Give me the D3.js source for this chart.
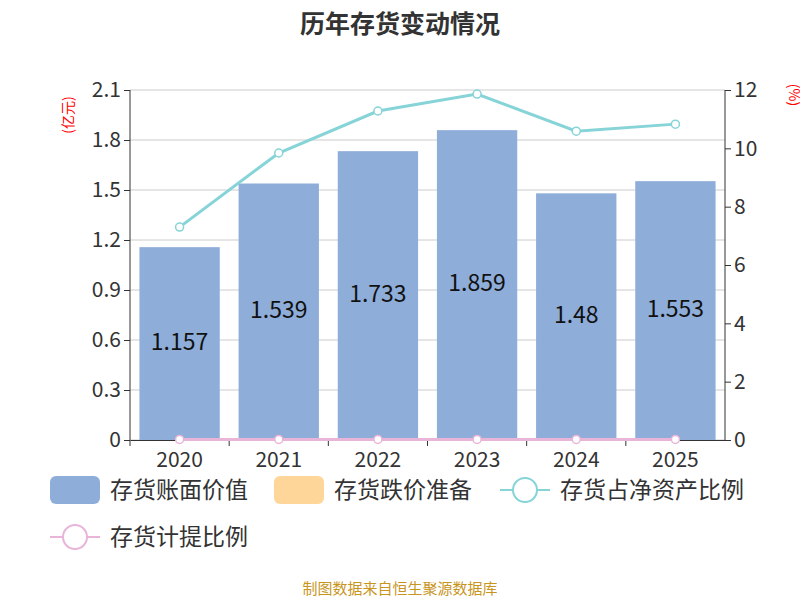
<!DOCTYPE html><html><head><meta charset="utf-8"><script src="https://cdn.jsdelivr.net/npm/d3@7"></script>
<style>body{margin:0}text{font-family:"Noto Sans CJK SC","Noto Sans",sans-serif}</style></head><body><svg id="c" width="800" height="600"></svg>
<script>
const years=["2020","2021","2022","2023","2024","2025"];
const bookValue=[1.157,1.539,1.733,1.859,1.48,1.553];
const reserve=[0,0,0,0,0,0];
const ratioNet=[7.3,9.84,11.28,11.86,10.59,10.83];
const ratioProv=[0.02,0.02,0.02,0.02,0.02,0.02];
const leftTicks=[0,0.3,0.6,0.9,1.2,1.5,1.8,2.1];
const rightTicks=[0,2,4,6,8,10,12];
const svg=d3.select("#c");
const L=130,R=725,T=90,B=440;
const x=d3.scaleBand().domain(years).range([L,R]).paddingInner(0.19).paddingOuter(0.095);
const yl=d3.scaleLinear().domain([0,2.1]).range([B,T]);
const yr=d3.scaleLinear().domain([0,12]).range([B,T]);
svg.append("text").attr("x",400).attr("y",33).attr("text-anchor","middle").attr("font-size",25).attr("font-weight","bold").attr("fill","#333").text("历年存货变动情况");
svg.append("g").selectAll("line").data(leftTicks).join("line").attr("x1",L).attr("x2",R).attr("y1",d=>yl(d)).attr("y2",d=>yl(d)).attr("stroke","#ccc");
const ga=svg.append("g").attr("transform",`translate(${L},0)`).call(d3.axisLeft(yl).tickValues(leftTicks).tickFormat(d=>d===0?"0":d3.format(".1f")(d)).tickSize(6));
const gr=svg.append("g").attr("transform",`translate(${R},0)`).call(d3.axisRight(yr).tickValues(rightTicks).tickSize(6));
const gx=svg.append("g").attr("transform",`translate(0,${B})`).call(d3.axisBottom(x).tickSize(6).tickSizeOuter(0));
[ga,gr,gx].forEach(g=>{g.selectAll("text").attr("font-size",21).attr("fill","#333");g.selectAll("line,path").attr("stroke","#333");});
ga.select(".domain").remove();gr.select(".domain").remove();
svg.append("line").attr("x1",L).attr("x2",L).attr("y1",T).attr("y2",B).attr("stroke","#333");
svg.append("line").attr("x1",R).attr("x2",R).attr("y1",T).attr("y2",B).attr("stroke","#333");
gx.selectAll(".tick line").attr("transform",`translate(${-x.step()/2},0)`);
gx.selectAll(".tick text").attr("dy","0.85em");
svg.append("text").attr("transform","translate(73,115) rotate(-90)").attr("text-anchor","middle").attr("font-size",14).attr("fill","red").text("(亿元)");
svg.append("text").attr("transform","translate(789,95) rotate(90)").attr("text-anchor","middle").attr("font-size",14).attr("fill","red").text("(%)");
svg.append("g").selectAll("rect").data(bookValue).join("rect").attr("x",(d,i)=>x(years[i])).attr("width",x.bandwidth()).attr("y",d=>yl(d)).attr("height",d=>B-yl(d)).attr("fill","#8eadd9");
svg.append("g").selectAll("text").data(bookValue).join("text").attr("x",(d,i)=>x(years[i])+x.bandwidth()/2).attr("y",d=>(yl(d)+B)/2+6).attr("text-anchor","middle").attr("font-size",23).attr("fill","#111").text(d=>d);
const cx=i=>x(years[i])+x.bandwidth()/2;
function line(data,color){
 svg.append("path").datum(data).attr("fill","none").attr("stroke",color).attr("stroke-width",3).attr("d",d3.line().x((d,i)=>cx(i)).y(d=>yr(d)));
 svg.append("g").selectAll("circle").data(data).join("circle").attr("cx",(d,i)=>cx(i)).attr("cy",d=>yr(d)).attr("r",4).attr("fill","#fff").attr("stroke",color).attr("stroke-width",1.5);
}
line(ratioProv,"#e8b4d8");
line(ratioNet,"#86d4d8");
const lg=svg.append("g");
const items=[["存货账面价值","#8eadd9","bar",50,490],["存货跌价准备","#ffd699","bar",274,490],["存货占净资产比例","#86d4d8","line",500,490],["存货计提比例","#e8b4d8","line",50,537]];
items.forEach(([t,c,k,lx,ly])=>{
 if(k==="bar")lg.append("rect").attr("x",lx).attr("y",ly-14).attr("width",50).attr("height",28).attr("rx",6).attr("fill",c);
 else{lg.append("line").attr("x1",lx).attr("x2",lx+50).attr("y1",ly).attr("y2",ly).attr("stroke",c).attr("stroke-width",2);
 lg.append("circle").attr("cx",lx+25).attr("cy",ly).attr("r",12).attr("fill","#fff").attr("stroke",c).attr("stroke-width",2);}
 lg.append("text").attr("x",lx+60).attr("y",ly+8).attr("font-size",23).attr("fill","#333").text(t);
});
svg.append("text").attr("x",400).attr("y",594).attr("text-anchor","middle").attr("font-size",15).attr("fill","#c8961e").text("制图数据来自恒生聚源数据库");
</script></body></html>
